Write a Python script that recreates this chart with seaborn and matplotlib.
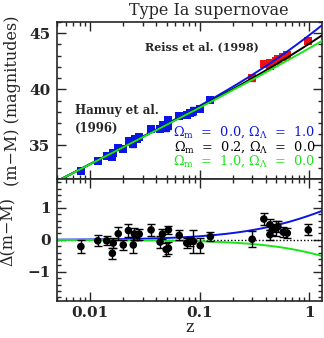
import numpy as np
import matplotlib
matplotlib.use("Agg")
import matplotlib.pyplot as plt
import seaborn as sns

# Redshifts, residuals from the (0.2, 0.0) model, and 1-sigma errors
z_hamuy = [0.0082, 0.0117, 0.0141, 0.0159, 0.0162, 0.0180, 0.0200, 0.0223,
           0.0247, 0.0253, 0.0265, 0.0280, 0.0359, 0.0434, 0.0456, 0.0493,
           0.0517, 0.0517, 0.0649, 0.0760, 0.0817, 0.0876, 0.101, 0.125]
dmu_hamuy = [-0.21, -0.03, -0.03, -0.42, -0.10, 0.19, -0.16, 0.29,
             -0.16, 0.18, 0.14, 0.18, 0.31, -0.07, 0.18, -0.30,
             -0.26, 0.31, 0.14, -0.10, -0.05, -0.05, -0.18, 0.10]
err_hamuy = [0.19, 0.17, 0.14, 0.17, 0.15, 0.20, 0.16, 0.19,
             0.26, 0.18, 0.15, 0.17, 0.18, 0.18, 0.15, 0.21,
             0.18, 0.12, 0.16, 0.15, 0.15, 0.36, 0.23, 0.14]

z_riess = [0.301, 0.385, 0.437, 0.437, 0.460, 0.493, 0.518, 0.579, 0.630, 0.980]
dmu_riess = [0.02, 0.65, 0.47, 0.16, 0.31, 0.36, 0.41, 0.24, 0.21, 0.31]
err_riess = [0.25, 0.19, 0.17, 0.16, 0.17, 0.23, 0.18, 0.16, 0.16, 0.17]

# Cosmological models (Omega_m, Omega_Lambda) and their colours
models = [(0.0, 1.0), (0.2, 0.0), (1.0, 0.0)]
model_colors = ["#0a14e6", "black", "#19e619"]
reference_model = (0.2, 0.0)
H0 = 65.0
C_KMS = 299792.458

x_ticks = [0.01, 0.1, 1]
x_ticklabels = ["0.01", "0.1", "1"]
top_yticks = [35, 40, 45]
bot_yticks = [-1, 0, 1]


def distance_modulus(z, om, ol):
    """m - M for a FRW universe, integrated on a fine grid from z = 0."""
    z = np.atleast_1d(np.asarray(z, dtype=float))
    grid = np.linspace(0.0, z.max(), 4000)
    ok = 1.0 - om - ol
    inv_e = 1.0 / np.sqrt(om * (1 + grid) ** 3 + ok * (1 + grid) ** 2 + ol)
    dc = np.concatenate([[0.0], np.cumsum(0.5 * (inv_e[1:] + inv_e[:-1]) * np.diff(grid))])
    dc = np.interp(z, grid, dc)
    if ok > 1e-8:
        dm = np.sinh(np.sqrt(ok) * dc) / np.sqrt(ok)
    elif ok < -1e-8:
        dm = np.sin(np.sqrt(-ok) * dc) / np.sqrt(-ok)
    else:
        dm = dc
    dl_mpc = (1 + z) * dm * C_KMS / H0
    return 5.0 * np.log10(dl_mpc * 1e5)


sns.set_style("ticks")
plt.rcParams["font.family"] = ["DejaVu Serif"]
plt.rcParams["mathtext.fontset"] = "dejavuserif"

fig = plt.figure(figsize=(3.24, 3.38), dpi=100)
ax_top = fig.add_axes([0.177, 0.4704, 0.816, 0.4645])
ax_bot = fig.add_axes([0.177, 0.1104, 0.816, 0.3600])

zgrid = np.geomspace(0.005, 1.3, 300)
mu_ref = distance_modulus(zgrid, *reference_model)

# Top panel: Hubble diagram
mu_hamuy = distance_modulus(z_hamuy, *reference_model) + np.array(dmu_hamuy)
mu_riess = distance_modulus(z_riess, *reference_model) + np.array(dmu_riess)
ax_top.errorbar(z_hamuy, mu_hamuy, yerr=err_hamuy, fmt="none", ecolor="#0a14e6",
                elinewidth=1.0, capsize=2)
sns.scatterplot(x=z_hamuy, y=mu_hamuy, ax=ax_top, marker="s", s=32,
                color="#0a14e6", edgecolor="none", zorder=3)
ax_top.errorbar(z_riess, mu_riess, yerr=err_riess, fmt="none", ecolor="#f01010",
                elinewidth=1.0, capsize=2)
sns.scatterplot(x=z_riess, y=mu_riess, ax=ax_top, marker="s", s=32,
                color="#f01010", edgecolor="none", zorder=3)
for (om, ol), col in zip(models, model_colors):
    sns.lineplot(x=zgrid, y=distance_modulus(zgrid, om, ol), ax=ax_top,
                 color=col, lw=1.4, zorder=4)

ax_top.set_xscale("log")
ax_top.set_xlim(0.005, 1.3)
ax_top.set_ylim(32, 46)
ax_top.set_yticks(top_yticks)
ax_top.set_ylabel("(m\u2212M) (magnitudes)", fontsize=11.5, labelpad=6)

ax_top.text(0.333, 0.845, "Reiss et al. (1998)", transform=ax_top.transAxes,
            fontsize=8, fontweight="bold", va="center")
ax_top.text(0.065, 0.435, "Hamuy et al.", transform=ax_top.transAxes,
            fontsize=8.5, fontweight="bold", va="center")
ax_top.text(0.065, 0.325, "(1996)", transform=ax_top.transAxes,
            fontsize=8.5, fontweight="bold", va="center")

legend_y = [0.296, 0.205, 0.114]
for (om, ol), col, yy in zip(models, model_colors, legend_y):
    ax_top.text(0.975, yy,
                r"$\Omega_{\rm m}$  =  %.1f, $\Omega_\Lambda$  =  %.1f" % (om, ol),
                transform=ax_top.transAxes, color=col, fontsize=9.3,
                ha="right", va="center")

# Bottom panel: residuals relative to the reference model
ax_bot.axhline(0, color="black", lw=1.0, ls=(0, (1, 1.5)), zorder=1)
for (om, ol), col in zip(models, model_colors):
    if (om, ol) == reference_model:
        continue
    sns.lineplot(x=zgrid, y=distance_modulus(zgrid, om, ol) - mu_ref, ax=ax_bot,
                 color=col, lw=1.4, zorder=2)
z_all = z_hamuy + z_riess
dmu_all = dmu_hamuy + dmu_riess
err_all = err_hamuy + err_riess
ax_bot.errorbar(z_all, dmu_all, yerr=err_all, fmt="none", ecolor="black",
                elinewidth=1.0, capsize=3, capthick=1.0, zorder=3)
sns.scatterplot(x=z_all, y=dmu_all, ax=ax_bot, marker="o", s=30,
                color="black", edgecolor="none", zorder=4)

ax_bot.set_xscale("log")
ax_bot.set_xlim(0.005, 1.3)
ax_bot.set_ylim(-1.9, 1.9)
ax_bot.set_yticks(bot_yticks)
ax_bot.set_yticklabels(["\u22121", "0", "1"])
ax_bot.set_ylabel("\u0394(m\u2212M)", fontsize=11.5, labelpad=6)
ax_bot.yaxis.set_label_coords(-0.155, 0.57)
ax_bot.set_xlabel("z", fontsize=11.5, labelpad=-1)

for ax, xpad in ((ax_top, 5.5), (ax_bot, 4)):
    ax.set_xticks(x_ticks)
    ax.set_xticklabels(x_ticklabels)
    ax.tick_params(which="both", direction="in", top=True, right=True,
                   labelsize=11, width=1.0)
    ax.tick_params(axis="x", pad=xpad)
    ax.tick_params(axis="y", pad=5)
    ax.tick_params(which="major", length=6.5)
    ax.tick_params(which="minor", length=3.2)
    for lab in ax.get_xticklabels() + ax.get_yticklabels():
        lab.set_fontweight("bold")
    for sp in ax.spines.values():
        sp.set_linewidth(1.2)
    ax.set_facecolor("white")

ax_top.yaxis.set_minor_locator(matplotlib.ticker.MultipleLocator(1))
ax_bot.yaxis.set_minor_locator(matplotlib.ticker.MultipleLocator(0.2))

fig.text(0.644, 0.968, "Type Ia supernovae", ha="center", va="center",
         fontsize=11.5)

fig.savefig("out.png", dpi=100, facecolor="white")
